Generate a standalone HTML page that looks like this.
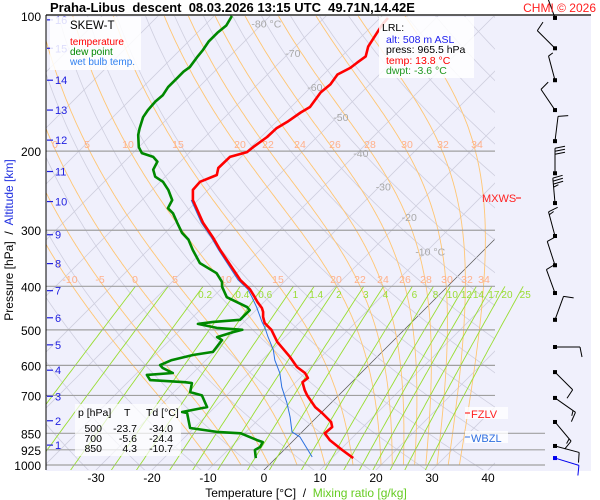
<!DOCTYPE html>
<html><head><meta charset="utf-8">
<style>
html,body{margin:0;padding:0;background:#fff;}
svg{display:block;font-family:"Liberation Sans",Arial,sans-serif;}
.pre{white-space:pre;}
</style></head>
<body>
<svg id="chart" width="600" height="500" viewBox="0 0 600 500" xmlns="http://www.w3.org/2000/svg">
  <defs>
    <clipPath id="plotclip"><rect x="46" y="16" width="449" height="454"/></clipPath>
    <clipPath id="mrclip"><rect x="46" y="16" width="499" height="454"/></clipPath>
  </defs>
  <rect x="46" y="16" width="545" height="455" fill="#f0f0fc"/>
  <g id="grid"></g>
  <g id="series"></g>
  <g id="winds"></g>
  <line x1="46" y1="15" x2="591" y2="15" stroke="#000" stroke-width="1.2"/>
  <line x1="46" y1="15" x2="46" y2="470" stroke="#000" stroke-width="1"/>
  <text x="50" y="12" font-size="13" font-weight="bold" class="pre" xml:space="preserve">Praha-Libus  descent  08.03.2026 13:15 UTC  49.71N,14.42E</text>
  <text x="596" y="12" font-size="12" fill="#ff2020" text-anchor="end">CHMI © 2026</text>
  <g id="axes"></g>
  <text transform="translate(13,240) rotate(-90)" font-size="12" text-anchor="middle" class="pre" xml:space="preserve">Pressure [hPa]  /  <tspan fill="#2030e0">Altitude [km]</tspan></text>
  <text x="306" y="497" font-size="12" text-anchor="middle" class="pre" xml:space="preserve">Temperature [°C]  /  <tspan fill="#66cc22">Mixing ratio [g/kg]</tspan></text>
  <g>
    <rect x="50" y="17" width="91" height="53" fill="#fff" fill-opacity="0.85"/>
    <text x="70" y="29" font-size="11.5">SKEW-T</text>
    <text x="70" y="45" font-size="10" fill="#ff0000">temperature</text>
    <text x="70" y="55" font-size="10" fill="#008800">dew point</text>
    <text x="70" y="65" font-size="10" fill="#3080f0">wet bulb temp.</text>
  </g>
  <g>
    <rect x="379" y="17" width="95" height="61" fill="#fff" fill-opacity="0.85"/>
    <text x="382" y="31" font-size="10.5">LRL:</text>
    <text x="386" y="43" font-size="10.5" fill="#2020ee">alt: 508 m ASL</text>
    <text x="386" y="53" font-size="10.5">press: 965.5 hPa</text>
    <text x="386" y="64" font-size="10.5" fill="#ff0000">temp: 13.8 °C</text>
    <text x="386" y="74" font-size="10.5" fill="#229922">dwpt: -3.6 °C</text>
  </g>
  <g font-size="10.5">
    <rect x="75" y="404" width="106" height="52" fill="#fff" fill-opacity="0.7"/>
    <text x="78" y="416">p [hPa]</text><text x="124" y="416">T</text><text x="146" y="416">Td [°C]</text>
    <text x="102" y="432" text-anchor="end">500</text><text x="137" y="432" text-anchor="end">-23.7</text><text x="173" y="432" text-anchor="end">-34.0</text>
    <text x="102" y="442" text-anchor="end">700</text><text x="137" y="442" text-anchor="end">-5.6</text><text x="173" y="442" text-anchor="end">-24.4</text>
    <text x="102" y="452" text-anchor="end">850</text><text x="137" y="452" text-anchor="end">4.3</text><text x="173" y="452" text-anchor="end">-10.7</text>
  </g>
  <g>
    <rect x="465" y="407" width="43" height="12" fill="#fff" fill-opacity="0.8"/>
    <line x1="465" y1="413" x2="470" y2="413" stroke="#ff0000"/>
    <text x="471" y="418" font-size="11" fill="#ff2020">FZLV</text>
  </g>
  <g>
    <rect x="465" y="431" width="43" height="12" fill="#fff" fill-opacity="0.8"/>
    <line x1="465" y1="437" x2="470" y2="437" stroke="#3070e0"/>
    <text x="471" y="442" font-size="11" fill="#3070e0">WBZL</text>
  </g>
  <g>
    <text x="482" y="202" font-size="11" fill="#ff2020">MXWS</text>
    <line x1="516" y1="198" x2="521" y2="198" stroke="#ff0000"/>
  </g>
</svg>
<script>
// ---- data ----
const tempP = [965,926,880,850,823,802,766,743,700,681,654,640,624,605,575,532,500,483,468,456,447,434,423,406,387,332,311,289,257,244,234,226,218,206,201,196,186,178,172,164,159.5,148,142,135,130.5,127,123,117,109,104.7,101];
const tempT = [13.8,10.4,6.4,4.3,4.5,3.4,0.2,-2.1,-5.6,-7.0,-8.8,-8.6,-10.0,-12.5,-15.5,-20.5,-23.7,-26.1,-27.5,-28.4,-29.3,-31.1,-32.5,-34.8,-38.2,-47.1,-50.7,-55.0,-60.9,-62.7,-62.9,-61.1,-62.1,-62.0,-59.8,-59.6,-58.9,-58.8,-58.0,-57.3,-56.6,-57.3,-57.0,-57.5,-56.4,-56.1,-55.7,-57.0,-57.9,-58.4,-58.6];
const dewP = [965,926,912,889,880,850,844,827,766,762,743,700,688,657,654,647,630,624,608,599,584,569,560,527,519,506,500,495,485,480,475,452,445,423,401,391,374,355,332,315,304,289,275,268,257,244,234,228,220,211,206,202,196,184,178,168,162,155,150,144,137,133,130,123,119,114,109,105,100];
const dewT = [-3.6,-5.2,-4.8,-5.2,-6.6,-10.7,-15.2,-20.7,-23.9,-25.0,-21.4,-24.4,-27.1,-28.4,-29.8,-36.4,-37.9,-33.6,-36.3,-37.3,-36.1,-33.2,-30.2,-30.7,-32.1,-30.2,-28.9,-33.8,-37.9,-35.5,-31.1,-31.1,-32.1,-37.5,-40.2,-41.1,-43.6,-48.4,-52.0,-54.6,-57.0,-59.6,-62.1,-63.9,-64.6,-67.1,-69.5,-71.8,-73.4,-74.1,-75.7,-78.4,-80.0,-82.3,-83.2,-84.6,-85.0,-85.2,-85.0,-85.5,-85.5,-85.5,-85.2,-85.7,-85.9,-86.4,-86.4,-86.1,-86.8];
const wbP = [960,866,844,782,727,671,624,584,554,519,495,480,445,423,406,387,332,311,289,257];
const wbT = [6.3,0.5,-1.8,-4.8,-7.9,-11.6,-14.5,-17.7,-19.8,-23.0,-25.2,-26.8,-30.4,-33.0,-35.2,-38.6,-47.4,-51.0,-55.3,-61.2];
const windP = [101,118,139,162,190,224,261,309,359,414,475,546,621,709,802,907,965];
const windDir = [340,315,345,326,7,0,355,345,342,340,20,90,135,125,140,105,107];
const windSpd = [5,10,5,10,10,30,35,15,10,10,10,10,10,15,15,10,10];
const isobars = [200,300,400,500,600,700,850,925,1000];
const isobarLabels = ["200","300","400","500","600","700","850","925","1000"];
const altKm = [16,15,14,13,12,11,10,9,8,7,6,5,4,3,2,1];
const altP = [102,118,139,162,189,222,259,307,356,409,470,540,615,703,797,903];
const xTicks = [-30,-20,-10,0,10,20,30,40];
const mixRatios = [0.05,0.1,0.2,0.4,0.6,1,1.4,2,3,4,6,8,10,12,14,17,20,25];
const mixLabeled = [0.2,0.4,0.6,1,1.4,2,3,4,6,8,10,12,14,17,20,25];
const moistThetaW = [-10,-5,0,5,10,15,20,22,24,26,28,30,32,34];
const isoLabelT = [-80,-70,-60,-50,-40,-30,-20,-10];
const isoLabelP = [104,121,144,168,202,240,280,335];

// ---- axis functions ----
const NS = "http://www.w3.org/2000/svg";
function yOf(p){ return 16 + (Math.log10(p) - 2) * 449; }
function xOf(T, p){ return 264 + 5.6 * T + (470 - yOf(p)); }
function xBase(T){ return 264 + 5.6 * T; }
function mk(tag, attrs, parent){
  const el = document.createElementNS(NS, tag);
  for (const k in attrs) el.setAttribute(k, attrs[k]);
  parent.appendChild(el);
  return el;
}
function path(pts){ return pts.map((q,i)=>(i?"L":"M")+q[0].toFixed(1)+","+q[1].toFixed(1)).join(""); }
const grid = document.getElementById("grid");
const series = document.getElementById("series");
const axes = document.getElementById("axes");
const winds = document.getElementById("winds");
const g1 = mk("g", {"clip-path":"url(#plotclip)"}, grid);
const g2 = mk("g", {"clip-path":"url(#mrclip)"}, grid);

function es(Tc){ return 6.112 * Math.exp(17.67 * Tc / (Tc + 243.5)); }
const pLevels = [];
for (let p = 1050; p >= 95; p -= 5) pLevels.push(p);

for (let T = -160; T <= 40; T += 10) {
  const ln = mk("path", {d: path([[xOf(T,1050),yOf(1050)],[xOf(T,95),yOf(95)]]), stroke: T===0 ? "#555" : "#cfcfdf", "stroke-width": T===0 ? 0.7 : 0.8, fill:"none"}, g1);
  
  
}
for (let th = 200; th <= 500; th += 10) {
  const pts = pLevels.map(p => [xOf(th * Math.pow(p/1000, 0.2857) - 273.15, p), yOf(p)]);
  const ln = mk("path", {d: path(pts), stroke:"#cfcfdf", "stroke-width":0.8, fill:"none"}, g1);
  
  
}
function moist(tw){
  let T = tw + 273.15, pts = [];
  for (let p = 1000; p >= 100; p -= 2) {
    pts.push([xOf(T - 273.15, p), yOf(p)]);
    const e = es(T - 273.15), rs = 0.622 * e / (p - e);
    const Lv = 2.5e6, Rd = 287, cp = 1005;
    const dTdp = (Rd * T + Lv * rs) / (cp + Lv * Lv * rs * 0.622 / (Rd * T * T)) / p;
    T -= dTdp * 2;
  }
  return pts;
}
moistThetaW.forEach(tw => {
  const ln = mk("path", {d: path(moist(tw)), stroke:"#ffc673", "stroke-width":0.9, fill:"none"}, g1);
  
  
});
function mrT(w, p){ const e = w * p / (622 + w); const l = Math.log(e / 6.112); return 243.5 * l / (17.67 - l); }
mixRatios.forEach(w => {
  const pts = [];
  for (let p = 1050; p >= 400; p -= 10) pts.push([xOf(mrT(w,p),p), yOf(p)]);
  const ln = mk("path", {d: path(pts), stroke:"#99dd33", "stroke-width":0.9, fill:"none"}, g2);
  
  
});
mixLabeled.forEach(w => {
  const t = mk("text", {x: xOf(mrT(w,400),400) + 2, y: 298, "font-size": 10, fill:"#99dd33", "text-anchor":"middle"}, grid);
  t.textContent = String(w);
  
  
});
const mLab200 = [["0",55],["5",87],["10",128],["15",178],["20",240],["22",268],["24",300],["26",335],["28",370],["30",407],["32",443],["34",477]];
const mLab400 = [["-10",70],["-5",100],["0",135],["5",175],["10",226],["15",278],["20",336],["22",360],["24",383],["26",405],["28",426],["30",447],["32",467],["34",484]];
[[mLab200,148],[mLab400,283]].forEach(([arr,yy]) => arr.forEach(([s,xx]) => {
  const t = mk("text", {x: xx, y: yy, "font-size": 10.5, fill:"#ffb08a", "text-anchor":"middle"}, grid);
  t.textContent = s;
  
  
}));
isoLabelT.forEach((T,i) => {
  const p = isoLabelP[i];
  const t = mk("text", {x: xOf(T,p) + 4, y: yOf(p) + 4, "font-size": 10.5, fill:"#a8a8a8", "text-anchor":"middle"}, grid);
  t.textContent = (i===0 || i===isoLabelT.length-1) ? T + " °C" : String(T);
  
  
});
isobars.forEach((p,i) => {
  const y = yOf(p);
  const ln = mk("line", {x1:46, y1:y, x2: p >= 850 ? 545 : 495, y2:y, stroke:"#a0a0a0", "stroke-width":1.2}, grid);
  
  
});
["100"].concat(isobarLabels).forEach((s,i) => {
  const p = i===0 ? 100 : isobars[i-1];
  const t = mk("text", {x: 41, y: yOf(p) + 5, "font-size": 12, "text-anchor":"end"}, axes);
  t.textContent = s;
  
  
});
altKm.forEach((k,i) => {
  const y = yOf(altP[i]);
  const ln = mk("line", {x1:47, y1:y, x2:53, y2:y, stroke:"#2020e0", "stroke-width":1.2}, axes);
  
  
  const t = mk("text", {x: 55, y: y + 4, "font-size": 11, fill:"#2020e0"}, axes);
  t.textContent = String(k);
  
  
});
xTicks.forEach(T => {
  const t = mk("text", {x: xBase(T), y: 482, "font-size": 12, "text-anchor":"middle"}, axes);
  t.textContent = String(T);
  
  
});
function line(P, T, color, w, name){
  const pts = P.map((p,i) => [xOf(T[i],p), yOf(p)]);
  const ln = mk("path", {d: path(pts), stroke: color, "stroke-width": w, fill:"none", "stroke-linejoin":"round"}, series);
  
  
}
line(wbP, wbT, "#2a70e0", 1, "wet-bulb-line");
line(dewP, dewT, "#008800", 2.6, "dew-point-line");
line(tempP, tempT, "#ff0000", 2.6, "temperature-line");
const bx = 555;
windP.forEach((p,i) => {
  const y0 = yOf(p);
  const a = windDir[i] * Math.PI / 180;
  const dx = Math.sin(a), dy = -Math.cos(a);
  const ex = bx + 25 * dx, ey = y0 + 25 * dy;
  const col = i === windP.length - 1 ? "#0000ee" : "#000";
  const g = mk("g", {stroke: col, "stroke-width": 1, fill: "none"}, winds);
  
  
  mk("line", {x1: bx, y1: y0, x2: ex, y2: ey}, g);
  mk("rect", {x: bx - 2, y: y0 - 2, width: 4, height: 4, fill: col, stroke: "none"}, g);
  const px = -dy, py = dx;
  let s = windSpd[i], k = 0;
  while (s >= 5) {
    const len = s >= 10 ? 10 : 5;
    const sx = ex - dx * k * 3, sy = ey - dy * k * 3;
    mk("line", {x1: sx, y1: sy, x2: sx + px * len + dx * 2, y2: sy + py * len + dy * 2}, g);
    s -= len; k++;
  }
});
</script>
</body></html>
